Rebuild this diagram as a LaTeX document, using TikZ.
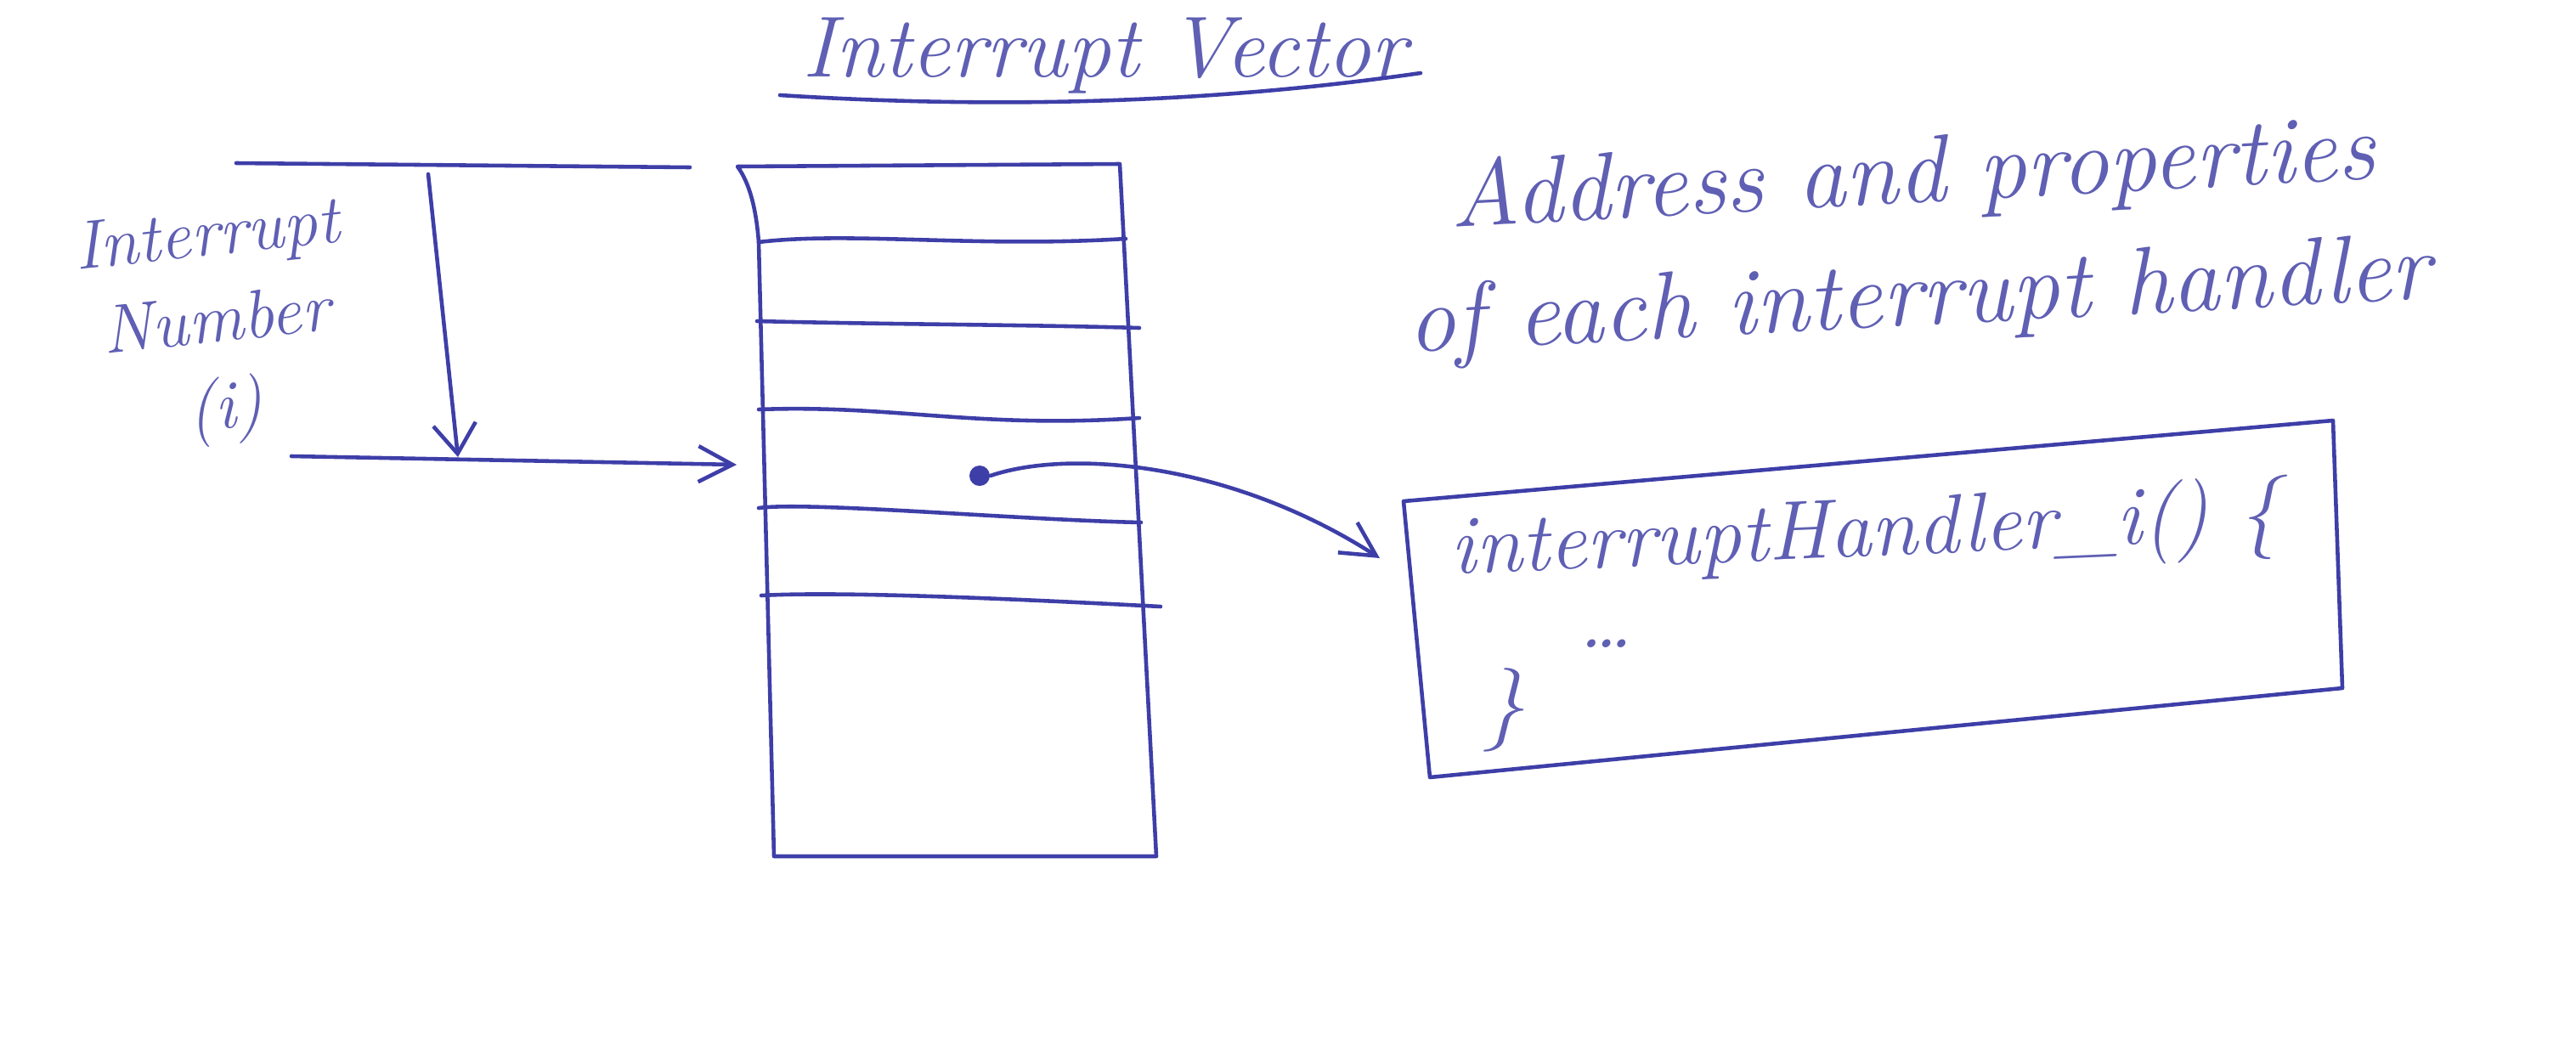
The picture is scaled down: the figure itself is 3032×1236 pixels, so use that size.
\documentclass[tikz,border=0pt]{standalone}
\usetikzlibrary{arrows.meta}
\definecolor{ink}{RGB}{62,62,168}
\definecolor{inklight}{RGB}{95,95,180}
\begin{document}
\begin{tikzpicture}[x=0.01cm, y=-0.01cm,
  pen/.style={draw=ink, line width=1.3pt, line cap=round, line join=round},
  arr/.style={pen, -{Straight Barb[length=4mm, width=4.2mm, line width=1.3pt]}},
  hand/.style={text=inklight, font=\itshape, inner sep=0pt},
  dotnode/.style={circle, fill=ink, inner sep=0pt, minimum size=0.24cm}]
\useasboundingbox (0,0) rectangle (3032,1236);

% title
\node[hand, anchor=base, font=\itshape\fontsize{29}{32}\selectfont] (title) at (1300,90) {Interrupt Vector};
\coordinate (ul1) at (918,112);
\coordinate (ul2) at (1672,86);
\draw[pen] (ul1) .. controls (1200,130) and (1450,118) .. (ul2);

% interrupt number label
\node[hand, align=center, rotate=6, font=\itshape\fontsize{23}{29}\selectfont] (lbl) at (255,385) {Interrupt\\Number\\(i)};

% index lines
\coordinate (tl1) at (278,192);
\coordinate (tl2) at (812,197);
\draw[pen] (tl1) -- (tl2);
\coordinate (va1) at (504,205);
\coordinate (va2) at (539,538);
\draw[arr, -{Straight Barb[length=3.5mm, width=5mm, line width=1.3pt]}] (va1) -- (va2);
\coordinate (bl1) at (343,537);
\coordinate (bl2) at (867,547);
\draw[arr] (bl1) -- (bl2);

% vector table
\coordinate (T1) at (868,196);
\coordinate (T2) at (1318,193);
\coordinate (T3) at (1361,1008);
\coordinate (T4) at (911,1008);
\draw[pen] (T1) -- (T2) -- (T3) -- (T4) -- (893,285) .. controls (890,245) and (882,215) .. (T1) -- cycle;
\draw[pen] (893,285) .. controls (1000,272) and (1150,292) .. (1325,281);
\draw[pen] (891,378) .. controls (1050,382) and (1200,382) .. (1341,386);
\draw[pen] (893,482) .. controls (1050,476) and (1150,505) .. (1341,492);
\draw[pen] (893,598) .. controls (950,590) and (1200,612) .. (1343,615);
\draw[pen] (896,701) .. controls (1000,695) and (1250,708) .. (1366,714);

% pointer
\node[dotnode] (dot) at (1153,560) {};
\coordinate (hin) at (1624,657);
\draw[arr] (dot.east) .. controls (1260,528) and (1450,545) .. (hin);

% handler box
\coordinate (H1) at (1652,590);
\coordinate (H2) at (2746,495);
\coordinate (H3) at (2757,810);
\coordinate (H4) at (1683,915);
\draw[pen] (H1) -- (H2) -- (H3) -- (H4) -- cycle;
\node[hand, anchor=base west, rotate=2.5, font=\itshape\fontsize{28}{30}\selectfont] (h1) at (1708,676) {interruptHandler\_i() \{};
\node[hand, anchor=base west, font=\itshape\fontsize{28}{30}\selectfont] (h2) at (1857,762) {\dots};
\node[hand, anchor=base west, font=\itshape\fontsize{28}{30}\selectfont] (h3) at (1745,860) {\}};

% description
\node[hand, align=center, rotate=3, font=\itshape\fontsize{32}{41}\selectfont] (desc) at (2255,282) {Address and properties\\of each interrupt handler};
\end{tikzpicture}
\end{document}
